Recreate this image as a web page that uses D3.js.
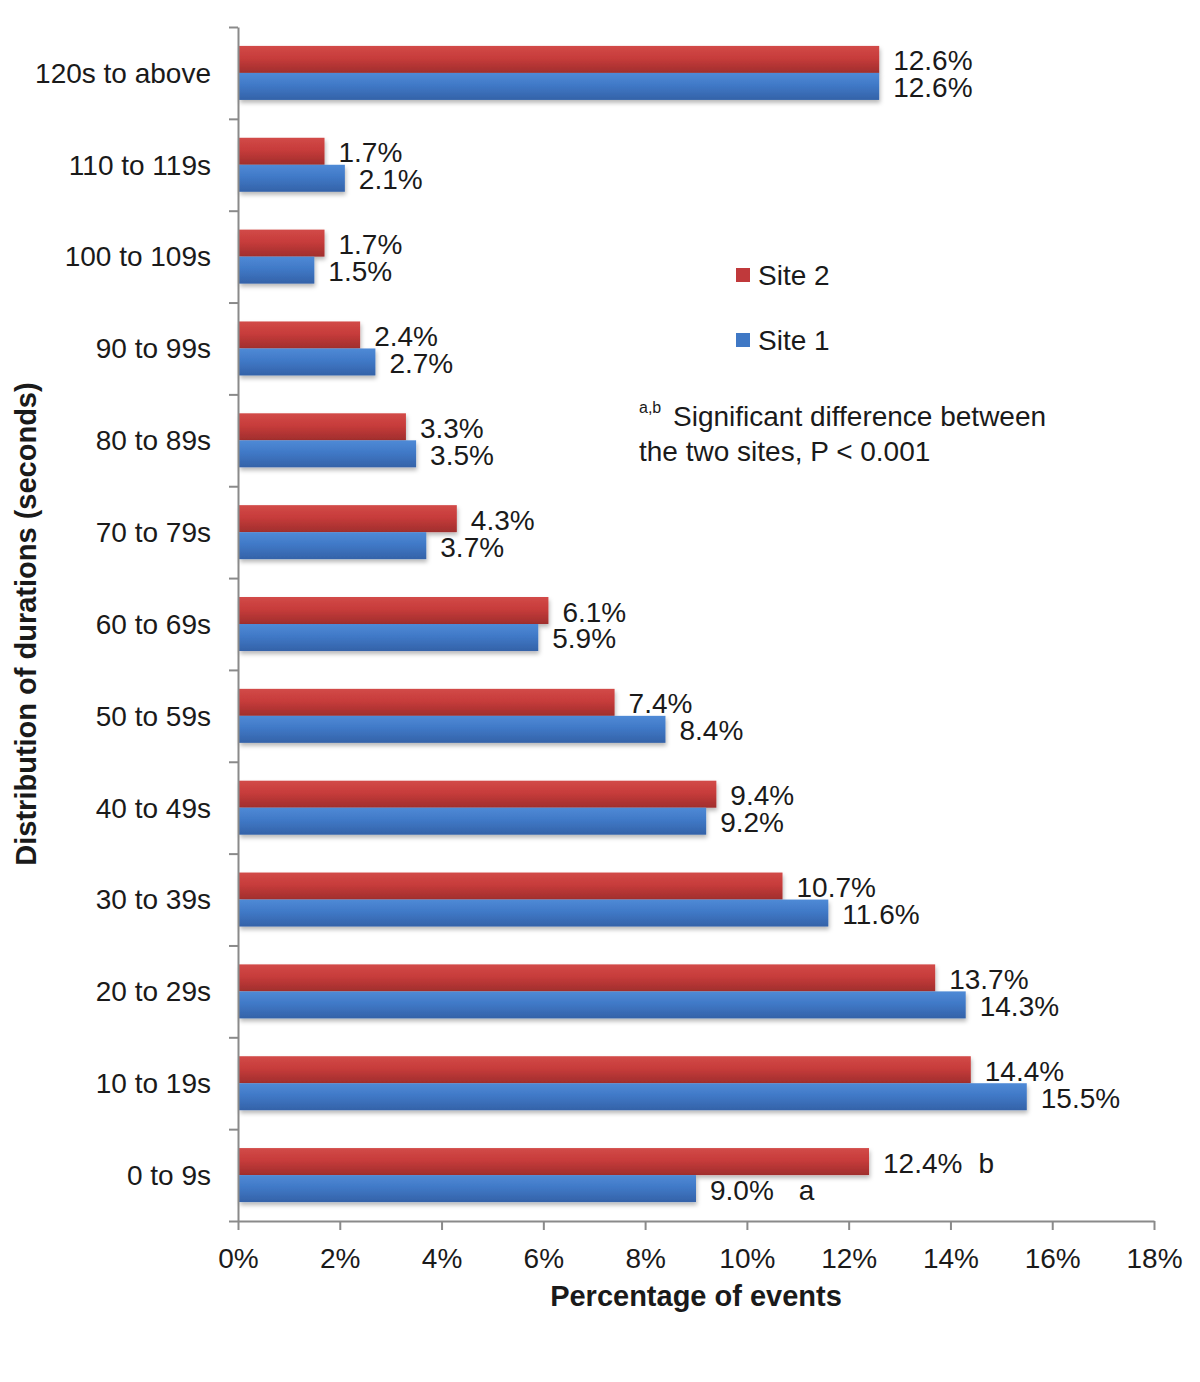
<!DOCTYPE html>
<html><head><meta charset="utf-8">
<script src="https://cdn.jsdelivr.net/npm/d3@7"></script>
<style>
body{margin:0;background:#fff}
text{font-family:"Liberation Sans",Arial,sans-serif;fill:#1a1a1a}
</style>
</head><body><svg id="c" width="1200" height="1382"></svg>
<script>
const categories = ["120s to above","110 to 119s","100 to 109s","90 to 99s","80 to 89s","70 to 79s","60 to 69s","50 to 59s","40 to 49s","30 to 39s","20 to 29s","10 to 19s","0 to 9s"];
const site2 = [12.6,1.7,1.7,2.4,3.3,4.3,6.1,7.4,9.4,10.7,13.7,14.4,12.4];
const site1 = [12.6,2.1,1.5,2.7,3.5,3.7,5.9,8.4,9.2,11.6,14.3,15.5,9.0];
const site2Marks = ["","","","","","","","","","","","","b"];
const site1Marks = ["","","","","","","","","","","","","a"];
const xTicks = [0,2,4,6,8,10,12,14,16,18];
const seriesNames = ["Site 2","Site 1"];
const xTitle = "Percentage of events";
const yTitle = "Distribution of durations (seconds)";
const noteLines = ["Significant difference between","the two sites, P < 0.001"];

const svg = d3.select("#c");
const X0 = 238, X1 = 1154, Y0 = 27, Y1 = 1221;
const x = d3.scaleLinear([0,18],[X0,X1]);
const y = d3.scaleBand(categories,[Y0,Y1]).paddingInner(0.412).paddingOuter(0.206);
const sub = d3.scaleBand(seriesNames,[0,y.bandwidth()]);

const defs = svg.append("defs");
function grad(id, c0, c1, c2){
  const g = defs.append("linearGradient").attr("id",id).attr("x1",0).attr("y1",0).attr("x2",0).attr("y2",1);
  g.append("stop").attr("offset","0%").attr("stop-color",c0);
  g.append("stop").attr("offset","45%").attr("stop-color",c1);
  g.append("stop").attr("offset","100%").attr("stop-color",c2);
}
grad("gRed","#d24a48","#c73c3b","#a02e2d");
grad("gBlue","#4f8ad6","#4079c7","#3462a8");
const f = defs.append("filter").attr("id","sh").attr("x","-5%").attr("y","-20%").attr("width","110%").attr("height","160%");
f.append("feDropShadow").attr("dx",1).attr("dy",3).attr("stdDeviation",2).attr("flood-color","#000").attr("flood-opacity",0.28);

const fills = {"Site 2":"url(#gRed)","Site 1":"url(#gBlue)"};
const legendFill = {"Site 2":"#c0393b","Site 1":"#3f78c5"};

const rows = categories.map((c,i)=>({c, vals:[
  {s:"Site 2", v:site2[i], m:site2Marks[i]},
  {s:"Site 1", v:site1[i], m:site1Marks[i]}
]}));

// bars
const gBars = svg.append("g");
const grp = gBars.selectAll("g.row").data(rows).join("g").attr("class","row")
  .attr("transform",d=>`translate(0,${y(d.c)})`);
grp.selectAll("rect").data(d=>d.vals).join("rect")
  .attr("x",x(0)+1).attr("y",d=>sub(d.s))
  .attr("width",d=>x(d.v)-x(0)-1).attr("height",sub.bandwidth())
  .attr("fill",d=>fills[d.s]).attr("filter","url(#sh)");

// value labels
grp.selectAll("text.val").data(d=>d.vals).join("text").attr("class","val")
  .attr("x",d=>x(d.v)+14).attr("y",d=>sub(d.s)+sub.bandwidth()/2+11)
  .attr("font-size",28)
  .each(function(d){
    const t = d3.select(this);
    t.append("tspan").text(d.v.toFixed(1)+"%");
    if(d.m) t.append("tspan").attr("dx", d.s==="Site 2"?16:25).text(d.m);
  });

// axes
const axisColor = "#8a8a8a";
const yIdx = d3.scaleLinear([0,categories.length],[Y0,Y1]);
const yAx = svg.append("g").attr("transform",`translate(${X0},0)`)
  .call(d3.axisLeft(yIdx).ticks(categories.length).tickFormat("").tickSize(9).tickSizeOuter(0));
yAx.selectAll("path,line").attr("stroke",axisColor).attr("stroke-width",2);

const yLab = svg.append("g").attr("transform",`translate(${X0},0)`)
  .call(d3.axisLeft(y).tickSize(0).tickPadding(27));
yLab.select(".domain").remove();
yLab.selectAll("text").attr("font-size",28).attr("font-family",null).attr("fill","#1a1a1a").attr("dy","0.35em");

const xAx = svg.append("g").attr("transform",`translate(0,${Y1})`)
  .call(d3.axisBottom(x).tickValues(xTicks).tickSize(9).tickSizeOuter(0).tickFormat(d=>d+"%"));
xAx.selectAll("path,line").attr("stroke",axisColor).attr("stroke-width",2);
xAx.selectAll("text").attr("font-size",28).attr("font-family",null).attr("fill","#1a1a1a").attr("y",47).attr("dy",0);

// titles
svg.append("text").attr("x",(X0+X1)/2).attr("y",1306).attr("text-anchor","middle")
  .attr("font-size",29).attr("font-weight","bold").text(xTitle);
svg.append("text").attr("transform",`translate(36,${(Y0+Y1)/2}) rotate(-90)`).attr("text-anchor","middle")
  .attr("font-size",29).attr("font-weight","bold").text(yTitle);

// legend
const leg = svg.append("g");
seriesNames.forEach((s,i)=>{
  const ly = 275 + i*65;
  leg.append("rect").attr("x",736).attr("y",ly-7).attr("width",14).attr("height",14).attr("fill",legendFill[s]);
  leg.append("text").attr("x",758).attr("y",ly+10).attr("font-size",28).text(s);
});

// note
svg.append("text").attr("x",639).attr("y",413).attr("font-size",16).text("a,b");
svg.append("text").attr("x",673).attr("y",426).attr("font-size",28).text(noteLines[0]);
svg.append("text").attr("x",639).attr("y",461).attr("font-size",28).text(noteLines[1]);
</script>
</body></html>
